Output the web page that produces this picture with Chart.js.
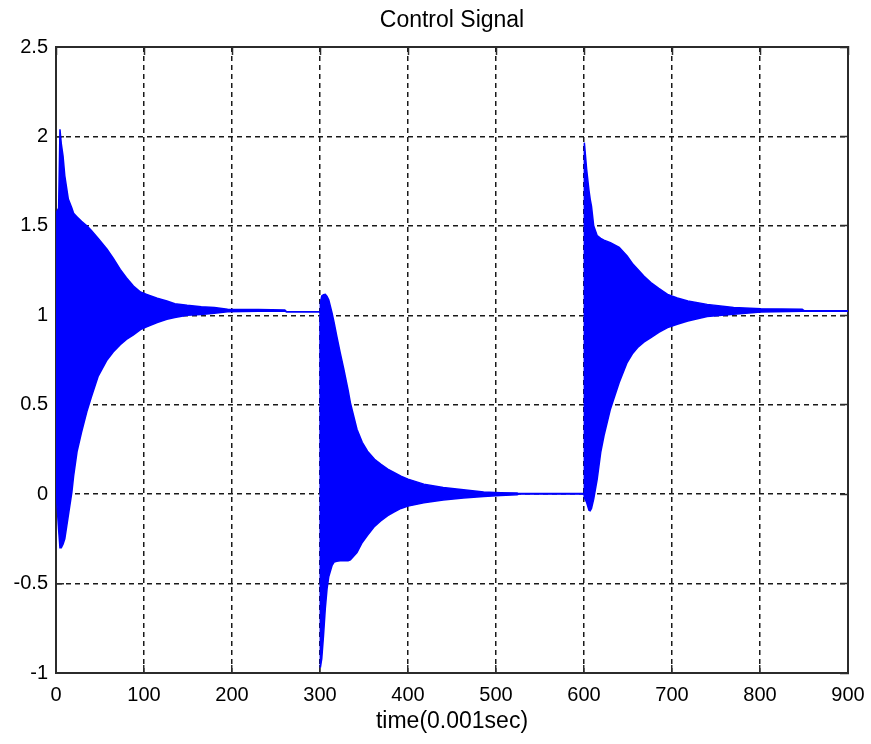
<!DOCTYPE html>
<html>
<head>
<meta charset="utf-8">
<script src="https://cdn.jsdelivr.net/npm/chart.js@4/dist/chart.umd.min.js"></script>
<style>
  html, body { margin: 0; padding: 0; background: #fff; }
  #wrap { width: 871px; height: 744px; }
</style>
</head>
<body>
<div id="wrap"><canvas id="signalChart" width="871" height="744"></canvas></div>
<script>
// time in ms (0.001 s) and the upper / lower envelope of the fast oscillation
const timeMs = [
  0, 1, 3, 4.5, 6, 8, 10, 14, 18, 20, 24, 29, 35, 40, 48, 58, 65, 73, 80, 88, 96, 103, 115, 126, 135, 149, 165, 180, 195, 230, 260, 262,
  300, 300.4, 302, 304, 306, 308, 310, 313.6, 316, 319, 323, 327, 332, 334.5, 342, 348, 354, 362, 369, 377, 384, 392, 400, 418, 440, 463, 486, 505, 524, 526,
  600, 600.4, 603, 605.6, 607, 608.5, 611, 615, 619, 622.7, 630, 640, 649, 655, 661, 668, 676, 685, 695, 706, 718, 740, 770, 801, 848, 850, 900
];
const upperEnv = [
  0.94, 1.58, 1.6, 2.04, 1.96, 1.89, 1.78, 1.65, 1.6, 1.57, 1.55, 1.525, 1.5, 1.475, 1.43, 1.37, 1.32, 1.257, 1.21, 1.164, 1.13, 1.117, 1.095, 1.08, 1.065, 1.056, 1.048, 1.043, 1.034, 1.032, 1.03, 1.02,
  1.02, 1.07, 1.108, 1.115, 1.117, 1.105, 1.085, 1.015, 0.96, 0.885, 0.79, 0.70, 0.58, 0.512, 0.363, 0.29, 0.24, 0.195, 0.168, 0.14, 0.121, 0.1, 0.084, 0.056, 0.037, 0.024, 0.012, 0.008, 0.006, 0.003,
  0.003, 1.965, 1.816, 1.70, 1.65, 1.61, 1.5, 1.445, 1.43, 1.42, 1.406, 1.38, 1.331, 1.29, 1.257, 1.22, 1.183, 1.15, 1.117, 1.097, 1.08, 1.061, 1.043, 1.037, 1.034, 1.026, 1.026
];
const lowerEnv = [
  0.31, -0.05, -0.2, -0.3, -0.3, -0.28, -0.25, -0.12, 0.01, 0.1, 0.24, 0.345, 0.46, 0.54, 0.66, 0.75, 0.795, 0.835, 0.865, 0.89, 0.92, 0.935, 0.96, 0.978, 0.988, 1.0, 1.005, 1.012, 1.02, 1.022, 1.022, 1.02,
  1.02, -0.97, -0.92, -0.79, -0.64, -0.53, -0.46, -0.40, -0.38, -0.375, -0.372, -0.372, -0.372, -0.368, -0.326, -0.27, -0.23, -0.18, -0.15, -0.12, -0.1, -0.08, -0.067, -0.048, -0.033, -0.022, -0.013, -0.007, -0.003, 0.001,
  0.001, -0.02, -0.047, -0.09, -0.093, -0.08, -0.028, 0.084, 0.233, 0.326, 0.475, 0.624, 0.736, 0.785, 0.82, 0.85, 0.875, 0.905, 0.931, 0.95, 0.968, 0.993, 1.006, 1.019, 1.022, 1.022, 1.022
];
const xTicks = [0, 100, 200, 300, 400, 500, 600, 700, 800, 900];
const yTicks = [-1, -0.5, 0, 0.5, 1, 1.5, 2, 2.5];

const BLUE = '#0000ff';
const INK = '#000000';
const FRAME = '#2b2b2b';
const GRID = '#1a1a1a';
const FONT = "'Liberation Sans', Arial, sans-serif";

const toPoints = (vals) => timeMs.map((t, i) => ({ x: t, y: vals[i] }));
const useTicks = (list) => (scale) => { scale.ticks = list.map((v) => ({ value: v })); };
// keep the plot box where the reference has it: no extra room for edge labels
const noEdgePad = (scale) => { scale.paddingLeft = 0; scale.paddingRight = 0; scale.paddingTop = 0; scale.paddingBottom = 0; };

function frameAxis(extra) {
  return {
    type: 'linear',
    border: { display: true, color: FRAME, width: 2 },
    grid: { drawOnChartArea: false, drawTicks: true, tickLength: -8, tickColor: FRAME, tickWidth: 1.5 },
    ticks: { display: false },
    ...extra
  };
}

new Chart(document.getElementById('signalChart'), {
  type: 'line',
  data: {
    datasets: [
      { label: 'upper', data: toPoints(upperEnv), borderColor: BLUE, borderWidth: 1.5, pointRadius: 0, tension: 0, fill: false },
      { label: 'lower', data: toPoints(lowerEnv), borderColor: BLUE, borderWidth: 1.5, pointRadius: 0, tension: 0, fill: '-1', backgroundColor: BLUE }
    ]
  },
  options: {
    responsive: false,
    animation: false,
    layout: { padding: { left: 0, right: 23, top: 0, bottom: 0 } },
    plugins: { legend: { display: false }, tooltip: { enabled: false }, title: { display: false } },
    scales: {
      x: {
        type: 'linear',
        position: 'bottom',
        min: 0,
        max: 900,
        afterBuildTicks: useTicks(xTicks),
        afterFit: (scale) => { scale.height = 71; noEdgePad(scale); },
        border: { display: true, color: FRAME, width: 2, dash: [5, 4] },
        grid: { color: GRID, lineWidth: 1.5, drawTicks: true, tickLength: -8, tickColor: FRAME, tickWidth: 1.5 },
        ticks: { color: INK, padding: 18, font: { family: FONT, size: 20 }, maxRotation: 0, callback: (v) => String(v) },
        title: { display: true, text: 'time(0.001sec)', color: INK, font: { family: FONT, size: 23 }, padding: { top: 0, bottom: 9 } }
      },
      y: {
        type: 'linear',
        position: 'left',
        min: -1,
        max: 2.5,
        afterBuildTicks: useTicks(yTicks),
        afterFit: (scale) => { scale.width = 56; noEdgePad(scale); },
        border: { display: true, color: FRAME, width: 2, dash: [5, 4] },
        grid: { color: GRID, lineWidth: 1.5, drawTicks: true, tickLength: -8, tickColor: FRAME, tickWidth: 1.5 },
        ticks: { color: INK, padding: 16, font: { family: FONT, size: 20 }, callback: (v) => String(v) }
      },
      xTop: frameAxis({
        position: 'top',
        min: 0,
        max: 900,
        afterBuildTicks: useTicks(xTicks),
        afterFit: (scale) => { scale.height = 47; noEdgePad(scale); },
        title: { display: true, text: 'Control Signal', color: INK, font: { family: FONT, size: 23 }, padding: { top: 7, bottom: 0 } }
      }),
      yRight: frameAxis({
        position: 'right',
        min: -1,
        max: 2.5,
        afterBuildTicks: useTicks(yTicks),
        afterFit: (scale) => { scale.width = 0; noEdgePad(scale); }
      })
    }
  }
});
</script>
</body>
</html>
